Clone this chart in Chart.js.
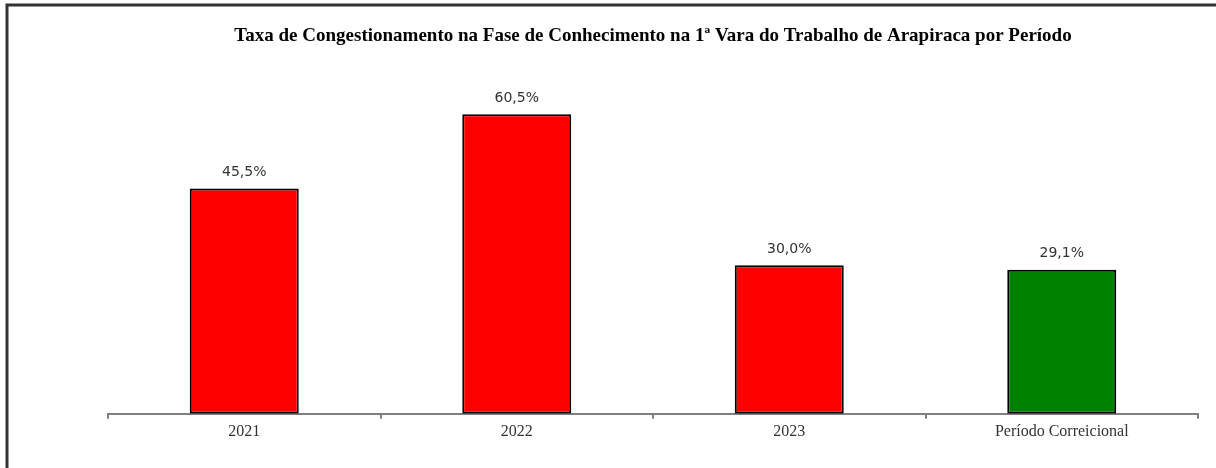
<!DOCTYPE html>
<html>
<head>
<meta charset="utf-8">
<script src="https://cdn.jsdelivr.net/npm/chart.js@4"></script>
<style>
  html, body { margin: 0; padding: 0; background: #fff; }
  #wrap { width: 1216px; height: 468px; position: relative; }
</style>
</head>
<body>
<div id="wrap"><canvas id="taxa"></canvas></div>
<script>
const periodos = ['2021', '2022', '2023', 'Período Correicional'];
const taxas = [45.5, 60.5, 30.0, 29.1];
const cores = ['#ff0000', '#ff0000', '#ff0000', '#008000'];

// frame around the picture (top and left edges only visible)
const moldura = {
  id: 'moldura',
  afterDraw(chart) {
    const ctx = chart.ctx;
    ctx.save();
    ctx.strokeStyle = '#333';
    ctx.lineWidth = 3;
    ctx.beginPath();
    ctx.moveTo(7, 470);
    ctx.lineTo(7, 5);
    ctx.lineTo(1220, 5);
    ctx.stroke();
    ctx.restore();
  }
};

// value labels over each bar
const rotulos = {
  id: 'rotulos',
  afterDatasetsDraw(chart) {
    const ctx = chart.ctx;
    const meta = chart.getDatasetMeta(0);
    ctx.save();
    ctx.font = '14px "DejaVu Sans"';
    ctx.fillStyle = '#333';
    ctx.textAlign = 'center';
    ctx.textBaseline = 'bottom';
    meta.data.forEach((bar, i) => {
      const txt = taxas[i].toFixed(1).replace('.', ',') + '%';
      ctx.fillText(txt, bar.x, bar.y - 9);
    });
    ctx.restore();
  }
};

new Chart(document.getElementById('taxa'), {
  type: 'bar',
  data: {
    labels: periodos,
    datasets: [{
      data: taxas,
      backgroundColor: cores,
      borderColor: '#000',
      borderWidth: 2,
      borderSkipped: false,
      categoryPercentage: 1,
      barPercentage: 0.4
    }]
  },
  options: {
    responsive: true,
    maintainAspectRatio: false,
    animation: false,
    layout: { padding: { left: 108, right: 18, top: 0, bottom: 24 } },
    plugins: {
      legend: { display: false },
      tooltip: { enabled: false },
      title: {
        display: true,
        text: 'Taxa de Congestionamento na Fase de Conhecimento na 1ª Vara do Trabalho de Arapiraca por Período',
        color: '#000',
        font: { family: '"Liberation Serif"', size: 19, weight: 'bold' },
        padding: { top: 25, bottom: 17 }
      }
    },
    scales: {
      y: { display: false, min: 0, max: 70.5 },
      x: {
        border: { display: true, color: '#808080', width: 2 },
        grid: { display: true, drawOnChartArea: false, color: '#808080', tickLength: 5, lineWidth: 2 },
        ticks: { color: '#333', font: { family: '"Liberation Serif"', size: 16 }, padding: 3 }
      }
    }
  },
  plugins: [moldura, rotulos]
});
</script>
</body>
</html>
